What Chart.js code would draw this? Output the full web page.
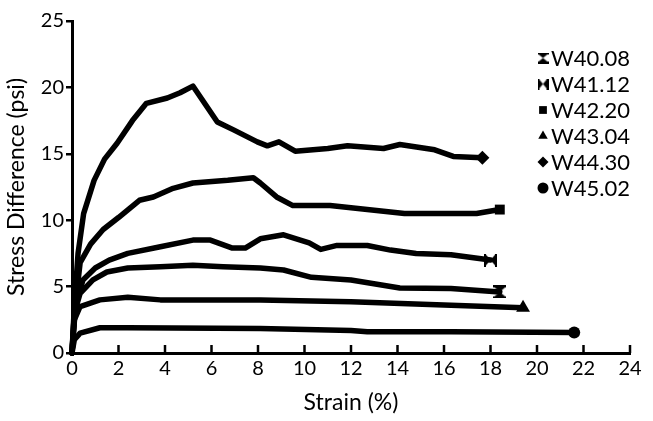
<!DOCTYPE html>
<html>
<head>
<meta charset="utf-8">
<script src="https://cdn.jsdelivr.net/npm/chart.js@4.4.1/dist/chart.umd.min.js"></script>
<style>
  html, body { margin: 0; padding: 0; background: #fff; }
  #wrap { width: 653px; height: 421px; position: relative; }
</style>
</head>
<body>
<div id="wrap"><canvas id="stressChart"></canvas></div>
<script>
// strain (%) / stress difference (psi)
const seriesNames = ['W40.08', 'W41.12', 'W42.20', 'W43.04', 'W44.30', 'W45.02'];

const w4008Strain = [0, 0.1, 0.35, 0.9, 1.5, 2.4, 3.8, 5.2, 6.5, 8.1, 9.1, 10.3, 12.0, 14.1, 16.3, 18.4];
const w4008Stress = [0, 3.0, 4.5, 5.5, 6.1, 6.4, 6.5, 6.6, 6.5, 6.4, 6.25, 5.7, 5.5, 4.9, 4.85, 4.6];

const w4112Strain = [0, 0.15, 0.47, 1.0, 1.6, 2.4, 3.8, 5.2, 5.95, 6.9, 7.45, 8.1, 9.1, 10.2, 10.7, 11.4, 12.7, 13.7, 14.8, 16.3, 18.0];
const w4112Stress = [0, 3.5, 5.5, 6.4, 7.0, 7.5, 8.0, 8.5, 8.5, 7.9, 7.9, 8.6, 8.9, 8.3, 7.8, 8.1, 8.1, 7.75, 7.5, 7.4, 7.0];

const w4220Strain = [0, 0.1, 0.35, 0.8, 1.34, 2.0, 2.9, 3.5, 4.35, 5.2, 6.7, 7.8, 8.1, 8.8, 9.5, 11.1, 11.7, 14.3, 17.4, 18.4];
const w4220Stress = [0, 3.0, 6.8, 8.2, 9.3, 10.2, 11.5, 11.75, 12.4, 12.8, 13.0, 13.2, 12.8, 11.75, 11.1, 11.1, 11.0, 10.5, 10.5, 10.8];

const w4304Strain = [0, 0.1, 0.35, 1.2, 2.4, 3.8, 8.1, 12.0, 16.3, 19.4];
const w4304Stress = [0, 2.5, 3.5, 4.0, 4.2, 4.0, 4.0, 3.85, 3.6, 3.4];

const w4430Strain = [0, 0.1, 0.26, 0.5, 0.95, 1.4, 1.94, 2.6, 3.2, 4.1, 4.65, 5.2, 6.25, 6.95, 7.97, 8.4, 8.9, 9.6, 11.0, 11.85, 13.4, 14.1, 15.6, 16.4, 17.65];
const w4430Stress = [0, 3.5, 7.5, 10.5, 13.0, 14.6, 15.8, 17.5, 18.8, 19.2, 19.6, 20.1, 17.4, 16.8, 15.9, 15.6, 15.9, 15.2, 15.4, 15.6, 15.4, 15.7, 15.3, 14.8, 14.7];

const w4502Strain = [0, 0.1, 0.35, 1.2, 2.4, 8.1, 12.0, 12.7, 16.3, 21.6];
const w4502Stress = [0, 1.0, 1.5, 1.9, 1.9, 1.85, 1.7, 1.6, 1.6, 1.55];

const xTicks = [0, 2, 4, 6, 8, 10, 12, 14, 16, 18, 20, 22, 24];
const yTicks = [0, 5, 10, 15, 20, 25];

const FONT = 'Lato, "Open Sans", sans-serif';

// hourglass marker, rotated 90deg it becomes the bowtie
function hourglass(size) {
    const c = document.createElement('canvas');
    c.width = size; c.height = size;
    const g = c.getContext('2d');
    g.fillStyle = '#000';
    g.fillRect(0, 0, size, 2);
    g.fillRect(0, size - 2, size, 2);
    g.beginPath();
    g.moveTo(0, 1); g.lineTo(size, 1); g.lineTo(size / 2, size / 2);
    g.closePath(); g.fill();
    g.beginPath();
    g.moveTo(0, size - 1); g.lineTo(size, size - 1); g.lineTo(size / 2, size / 2);
    g.closePath(); g.fill();
    return c;
}

const markerStyles = [
    { style: hourglass(13), legend: hourglass(11), rot: 0, r: 6 },
    { style: hourglass(13), legend: hourglass(11), rot: 90, r: 6 },
    { style: 'rect', rot: 0, r: 7 },
    { style: 'triangle', rot: 0, r: 8 },
    { style: 'rectRot', rot: 0, r: 7 },
    { style: 'circle', rot: 0, r: 6 }
];

const strainSets = [w4008Strain, w4112Strain, w4220Strain, w4304Strain, w4430Strain, w4502Strain];
const stressSets = [w4008Stress, w4112Stress, w4220Stress, w4304Stress, w4430Stress, w4502Stress];

const datasets = seriesNames.map((name, i) => {
    const xs = strainSets[i];
    const m = markerStyles[i];
    return {
        label: name,
        data: xs.map((x, k) => ({ x: x, y: stressSets[i][k] })),
        borderColor: '#000',
        backgroundColor: '#000',
        borderWidth: 5.5,
        borderCapStyle: 'round',
        borderJoinStyle: 'round',
        tension: 0,
        pointStyle: m.style,
        pointRotation: m.rot,
        pointRadius: ctx => ctx.dataIndex === xs.length - 1 ? m.r : 0,
        pointBorderWidth: 0,
        clip: false
    };
});

// x tick marks point up into the plot
const innerTicks = {
    id: 'innerTicks',
    afterDatasetsDraw(chart) {
        const ctx = chart.ctx;
        const xs = chart.scales.x;
        const bottom = chart.chartArea.bottom;
        ctx.save();
        ctx.strokeStyle = '#000';
        ctx.lineWidth = 2.5;
        xTicks.forEach(v => {
            if (v === 0) return;
            const px = xs.getPixelForValue(v);
            ctx.beginPath();
            ctx.moveTo(px, bottom);
            ctx.lineTo(px, bottom - 8);
            ctx.stroke();
        });
        ctx.restore();
    }
};

// legend inside the plot, top right
const sideLegend = {
    id: 'sideLegend',
    afterDraw(chart) {
        const ctx = chart.ctx;
        const mx = 543, tx = 551, y0 = 58, step = 26;
        ctx.save();
        ctx.font = '22px ' + FONT;
        ctx.fillStyle = '#000';
        ctx.textBaseline = 'middle';
        chart.data.datasets.forEach((ds, i) => {
            const y = y0 + i * step;
            const m = markerStyles[i];
            Chart.helpers.drawPoint(ctx, {
                pointStyle: m.legend || m.style, rotation: m.rot, radius: 5.5,
                borderWidth: 0
            }, mx, y);
            ctx.fillStyle = '#000';
            ctx.fillText(ds.label, tx, y + 1);
        });
        ctx.restore();
    }
};

new Chart(document.getElementById('stressChart'), {
    type: 'line',
    data: { datasets: datasets },
    plugins: [innerTicks, sideLegend],
    options: {
        responsive: true,
        maintainAspectRatio: false,
        animation: false,
        layout: { padding: { top: 21, right: 23, left: 0, bottom: 0 } },
        plugins: { legend: { display: false }, tooltip: { enabled: false } },
        scales: {
            x: {
                type: 'linear',
                min: 0, max: 24,
                afterBuildTicks: s => { s.ticks = xTicks.map(v => ({ value: v })); },
                afterFit: s => { s.height = 68; },
                grid: { display: true, drawOnChartArea: false, drawTicks: false },
                border: { display: true, color: '#000', width: 3 },
                ticks: { color: '#000', padding: 4, font: { family: FONT, size: 20 } },
                title: {
                    display: true, text: 'Strain (%)', color: '#000',
                    font: { family: FONT, size: 23 }, padding: { top: 0, bottom: 5 }
                }
            },
            y: {
                min: 0, max: 25,
                afterBuildTicks: s => { s.ticks = yTicks.map(v => ({ value: v })); },
                afterFit: s => { s.width = 72; },
                grid: { drawOnChartArea: false, color: '#000', lineWidth: 2.5, tickLength: 6 },
                border: { display: true, color: '#000', width: 3 },
                ticks: { color: '#000', padding: 2, font: { family: FONT, size: 20 } },
                title: {
                    display: true, text: 'Stress Difference (psi)', color: '#000',
                    font: { family: FONT, size: 23 }, padding: { top: 3, bottom: 0 }
                }
            }
        }
    }
});
</script>
</body>
</html>
